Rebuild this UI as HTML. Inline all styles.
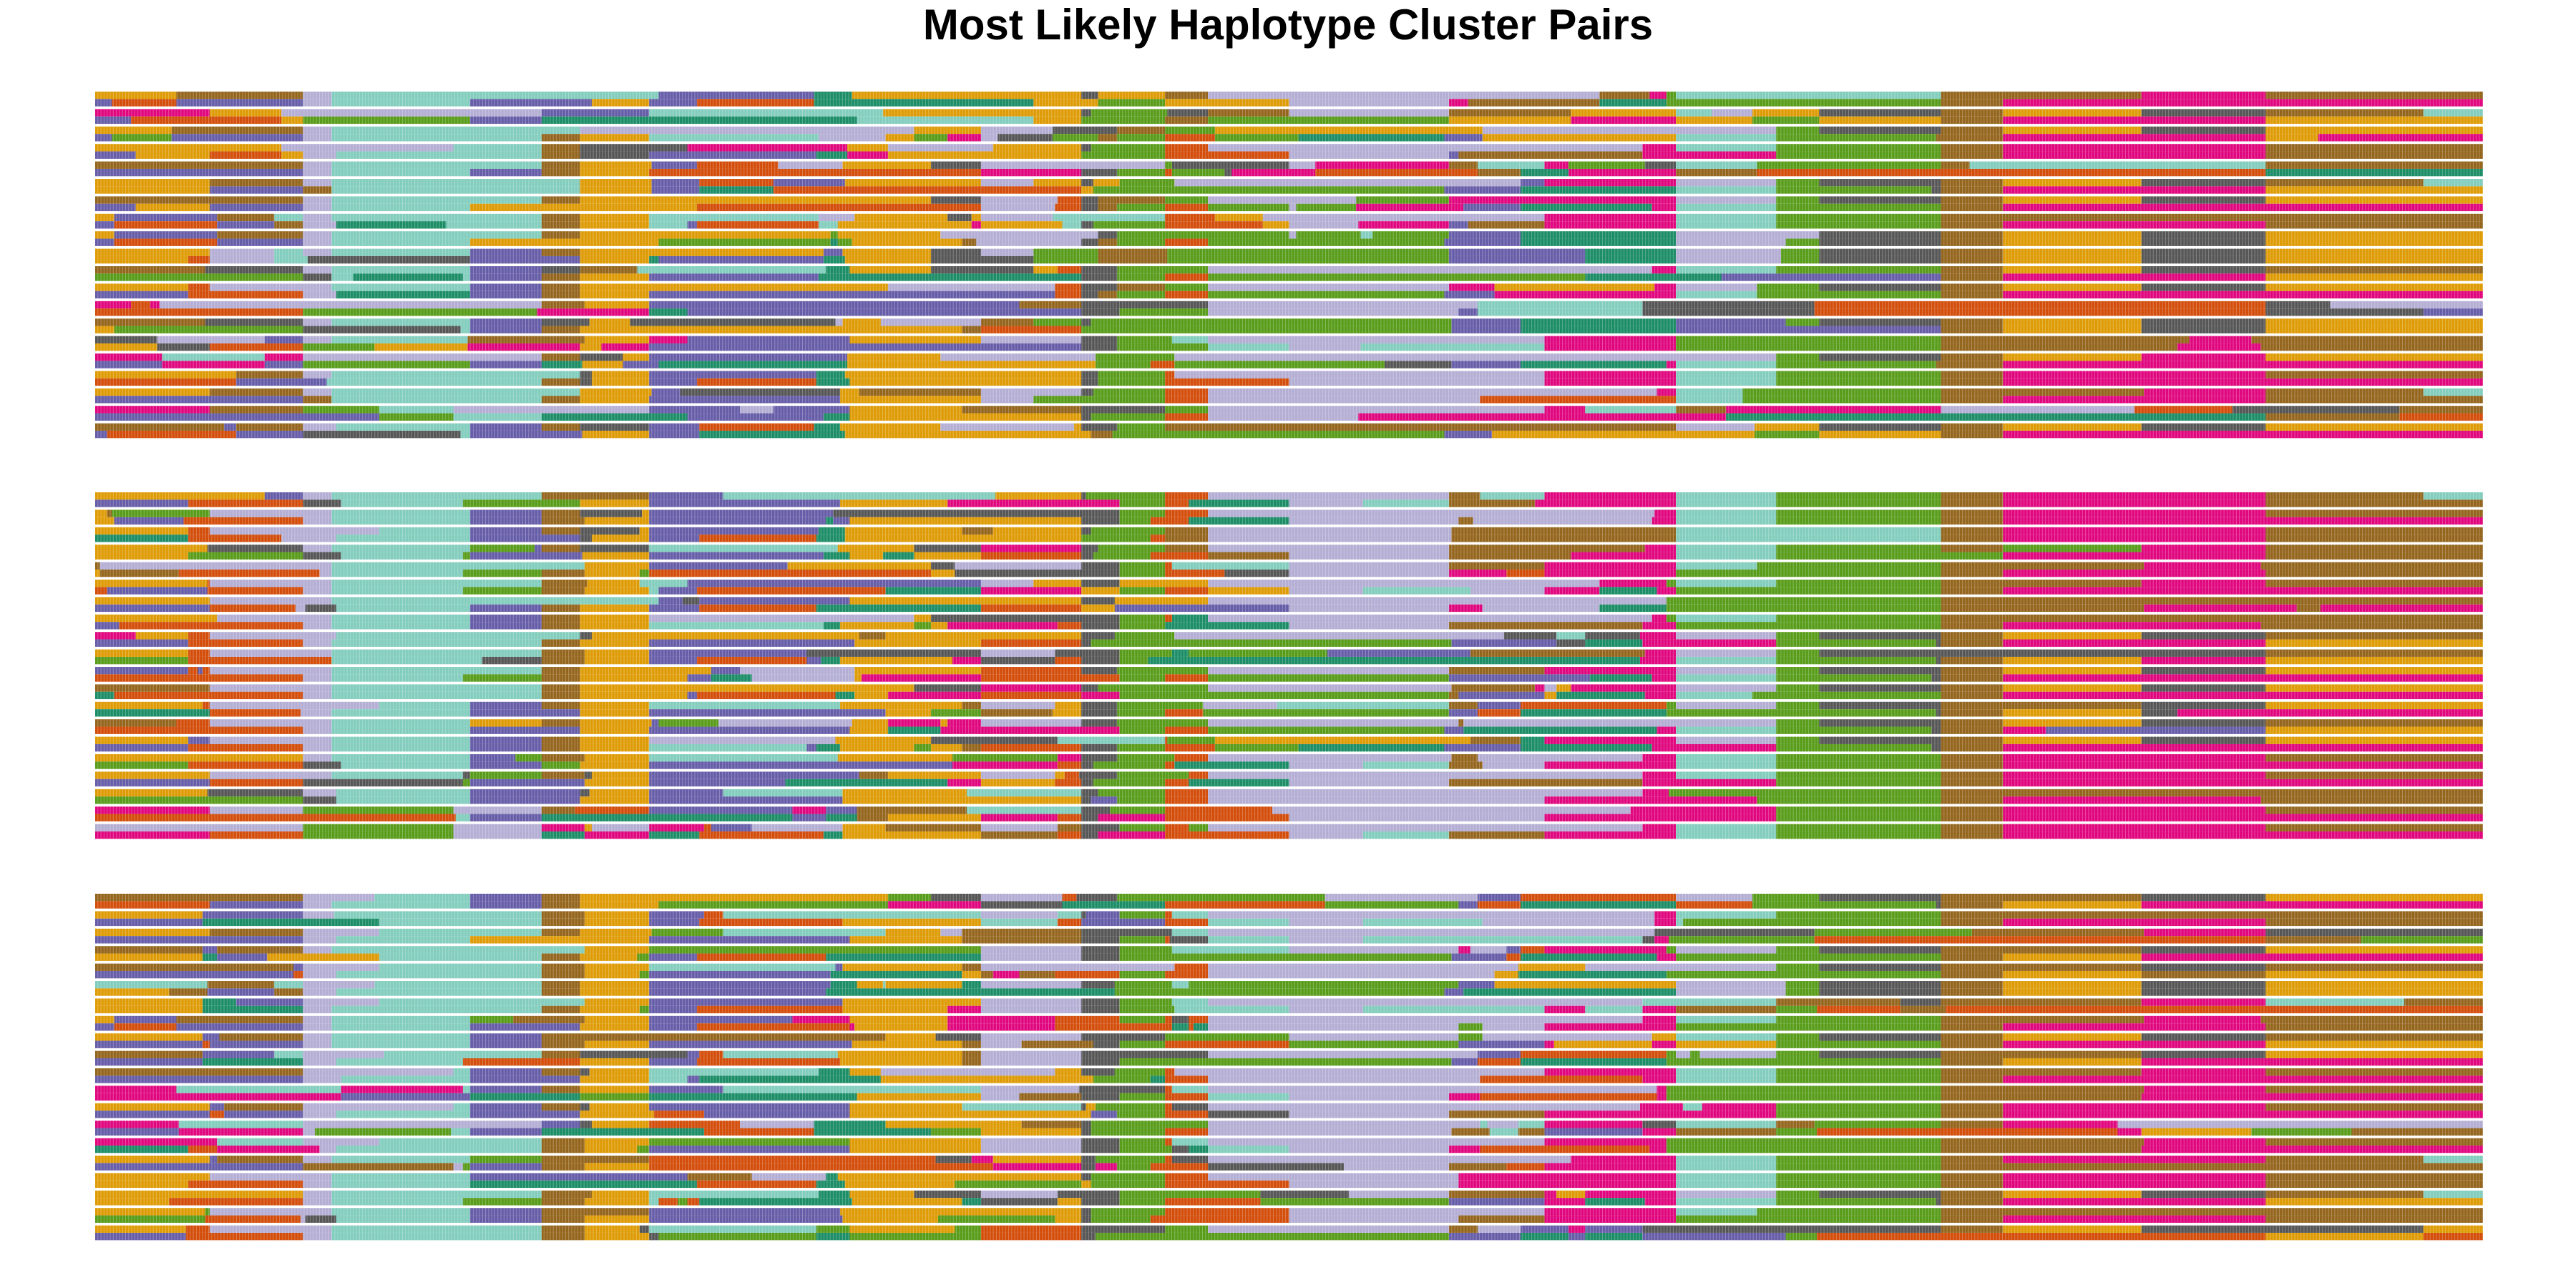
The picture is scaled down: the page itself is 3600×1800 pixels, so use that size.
<!DOCTYPE html>
<html><head><meta charset="utf-8"><title>Most Likely Haplotype Cluster Pairs</title>
<style>
html,body{margin:0;padding:0;background:#fff;}
body{width:3600px;height:1800px;overflow:hidden;}
#title{position:absolute;left:0;top:0px;width:3600px;text-align:center;font-family:"Liberation Sans",Arial,sans-serif;font-weight:bold;font-size:60px;color:#000;}
svg{position:absolute;left:0;top:0;}
</style></head>
<body>
<div id="title">Most Likely Haplotype Cluster Pairs</div>
<svg id="chart" width="3600" height="1800">
<defs>
<pattern id="vlines" patternUnits="userSpaceOnUse" width="4.3" height="10" x="133">
<rect x="3.3" y="0" width="1" height="10" fill="#ffffff" fill-opacity="0.28"/>
</pattern>
</defs>
</svg>
<script>
// cluster letter codes and colors
const clusterCodes = ['o','b','l','t','p','r','g','m','k','d'];
const clusterColors = ['#DE9B06','#94651D','#B4AED4','#82CDBD','#665DA8','#D34D0B','#589C1A','#E0067E','#565656','#1C8D66'];
// marker domain (positions along chromosome, 0..1000)
const markerDomain = [0, 1000];
// each string: haplotype segments, letter = cluster, number = end marker
const panel1 = [
"o34b87l99t236p301d317o413k420o448b466l630b651m658g662t773b857m909b1000",
"p7r34p87l99t157p208o232p252r301d393o420g448o500l567m575b630d658g773b799m1000",
"m48o78l187p232t330o413k417g449k466b500l567b618o662t677l694o722k773b799o857k909b975t1000",
"p15r78o87g157p187d319t393o413g448b466g567o618m662o694g722o773b799m909o1000",
"o32b87l99t203l343o371l401k428b448g469o581l704g722k773b799o857k909o1000",
"p7g32p87l99t187b203o232t303l331o343g357m371l378k401g420b428g448r469g504d565p581o662t704g771b799m909o931m1000",
"o78l150t187b203k248m315o332l376o413k417g448r466l648m662t704g773b799m909b1000",
"p17o48r78o87l101t187b203k232p302d315m332o413g448r500l567p571b648m704g773b799m909b1000",
"b87l99t187b203o233p252r286l313o350k371l448g451k500l511m567b579t607m617g649k662t696g773b785t909b1000",
"p87l99t157p187b203o232r371m413k428g448r451g473k476m511r579b597d617m662b696r909d1000",
"o48b87l99t203o233p253r284p314o371l393o413k418o429g452l597p607m662l704g722k773b799o857k909b975t1000",
"o48p87b99t203o233p253d284r413o418g565p597d662t704g769k773b799m909o1000",
"b87l99t187b203o350k371l403r413k420b448g466l528g567m662l704g722k773b799o857k909o1000",
"p17o48p87l99t157o252r371l402r413k420b428g448r466g500l503g528m573p597d652m662t704g773b799m1000",
"o8p51b75t87l99t187b203o232t303l318o357k367o371l401t448r469o489l607m662t704g773b1000",
"p8r51p75b87l101d147t187b203o232t248p252r303t311o367m371o405t413k418g448r489o500l529m567p575b607m662t704g773b799m909b1000",
"o8p51b87l99t187b203o308g311o354l420k428g500l503g530t535g567p597d662l722k773b799o857k909o1000",
"p8r51p87l99t157o236g308d311g317o363b369l413k420b428g448r466g565p597d662l708g722k773b799o857k909o1000",
"o48l75t87l99t157p187b203o305p313o350k371l393g420b449g567p624d662l706g722k773b799o857k909o1000",
"o39r48l75t89k157p203o232d236p305d314o350k393g420b449g567p624d662l706g722k773b799o857k909o1000",
"b46k87l99t157p187k203b227t306d316o350k393o403r413k428g466l652m662t704g773b799o857k909b1000",
"g87k99t108d154t157p187b203o232p303d413k428g448r466g624d681p773b799m909o1000",
"o39r48l99t157p187b203o332l402r413k428b448g466l567m586o653m662l696g722k773b799o857k909o1000",
"p39r87l101d157p187b203o232p402r413k420b428g448r466g565p586m662t696g773b799m1000",
"m15r23m27l187b205o232p387b413k466l579t648k720r909k936l1000",
"r87g185m232d248p413k429g466l571p579t648k720r909k975p1000",
"b46k87l99t157p187k207o224k310l313o329l371b393g413k417g568p597d662p708g722k773b799o857k909o1000",
"o8g87k153t157p187b203o363b371r413g568p597d662p773b799o857k909o1000",
"k26l71p87l99t156b205o232m248p316o371l413k428g451t466l607m662g773b877m903b1000",
"o26k48r87g117o156m203o212m232p413k428g466t500l530t607m662g773b872m907b1000",
"m28t71m87l187b203k221o232p315o354l419g452l704g722k773b799o857m909o1000",
"p28m71p87g157p187d204o221p236d315o419g442r452g540k568p597d658m662t704g771b799m1000",
"o59b87l99t203k208o232p302d314o413k420g448r452l607m662t704g773b799m909b1000",
"r59p97t187b203k208o232p252r302d316o413k420g448r500l607m662t704g773b799m1000",
"o48b87l99t203o233p245k312o320b371l413k418g448r466l654m662t690g773b858m909b975t1000",
"p87b99t187b203o232p312o371l393g448r466l580r662t690g773b799m909b1000",
"m48b87g119t150l232p270l284p316o363b413k448g466l607m624t662b683m773l854r895k965b1000",
"p119g150t187d248p305d316o413k417g448r466l529m683d909b965r1000",
"b54p59b87l101t157p187b203k232p253r301d312o354l410o413k428g448b662l695o722k773b799o857k909o1000",
"p5r59p87k153t157p204o232p253d314o417b426g565p585o695g722o773b799m1000"
];
const panel2 = [
"o71p87l99t187b232p263t377o413k415g448r466l567b580t607m662t704g773b799m909b975t1000",
"p39r87k103t154g203o232p312o357m429g448r458d500l531t567b603m662t704g773b799m909b1000",
"o5b7g48l99t157p187b203k229o232p309k429g448r466l653m662t704g773b799m909b1000",
"o8p37r87l99t157p187b205o232p306d309p316o413k429g442r458d500l571b577l652m662t704g773b799m1000",
"o39r48l119t157p187b203k228o232p303d314o363b376o413k417g448b466l568b662t773b799m909b1000",
"d39r78l101t157p203k208o232p253r302d314o413g442r448b466l568b662t773b799m909b1000",
"o47k87l99t157g184p187b203k232t311o343k371m413k420g448b466l567b649m662t704g773b799g857m909b1000",
"o39g87k103t154g157p204o232p305d316o330d343o371r413k418g442r466b500l567b618m662t704g799m909b1000",
"b2l99t205o232p290o350k360l413k429g448r451t500l567b607m662t696g773b858m907b1000",
"o2b35r94l99t154g187b205o228g232r350o360k429g448r473k500l567m591r607m662g773b799m909b1000",
"o47r48l99t187b206o228t248p371l393o413k429o466l630m658g662t704g773b857m909b1000",
"r5p47r87l99t154g187b205o232t236p252r331d371m413o429g448r466o500l531t576l607m630d654m662g773b799m1000",
"o48l99t236p246k253p316o413k427o466l658g773b1000",
"p48r84l88k101t157p187b203o232p253r302d371r413o427p500l567m581l630d658g773b858m922b932m1000",
"o51l99t157p187b203o232l343o350k429g448r451d466l652m658g662t704g773b1000",
"p10r87l99t157p187b203o232t305d312o343g350o357m403r413k429g448d500l567b648m662g773b799m907b1000",
"m17o39r48l101t203k208o320b331o413k427g452l590k612t624k647m662l704g722k773b799o857k909b1000",
"p39r87l99t187b203o232p318o371r413k417g568p612k624d648m704g771k773b799m909o1000",
"o39r48l99t187b205o232p298k371l402k429g451d458g516p576b649m662l704g722k909b1000",
"g39r99t162k187b205o232p252r298p304d312o359m371k402r413k429g441d647m662t704g771k773b799o857m909o1000",
"p39r43p45r48l99t187b203o258p270l318o371r413k428g466l567b607m662l704g722k773b799o857k909o1000",
"r87l99t154g187b203o248p258d275l318o321m371r429g448r466g567p626d652m662t704g769k773b799m1000",
"b48l99t187b203o343k371m413k420g466l568b603m607l612o618m662l704g722k773b799o857k909o1000",
"d8r87l99t187b203o248p252r310d318o332m371r413m429g567b571p607o612d649m662t694g773b799m1000",
"o45r48l119t157p187b203o232t312o363b371l402o413k428g464l495t567b579p597r658g662l704g722k773b857k909o1000",
"d48r86l99t157p203o232p331o350g371b401o413k428g448r464g567p579r597d658g771k773b799o857k872m1000",
"b34r48l99t157o187b203o233p236g261l317o332m354o357m371l413k428g466l571b573l704g722k773b799o857k909b1000",
"r87l99t157p203o232p316o332d354m429g448r466g565p573d654m662t704g769k773b799m817p909o1000",
"o39p48l99t157p187b203o232l310o350k403t448r449g469o576b597d607m662l704g722k773b799o857k909o1000",
"p39r87l99t157p187b203o232t298p302d312o343g350o363b371r413k428g448r469g504d565p597d652m704g769k773b799m1000",
"o87l99t157p176g187b205o232t311o359g403m413k428g452r466l568b579l648m662t704g773b799m909b1000",
"g39r87k103t157p187g203o232p359m403r413k418g448r452d500l531t567b581l607m662t704g773b799m1000",
"o48l99t154k157g187b205k208o232p320b332o371l402o406r412k428g458r466l648m662t704g773b799m909b1000",
"p48r87k154g157p205o232p289d357m371o402r413k418g448r458d500l567b648m704g773b799m1000",
"o47k87l101t157p203k207o232p263t313o365t413k420g448r466l648m659g773b1000",
"g87k101t157p203o232p313o413k417p428g448r466l607m696g773b799m907b1000",
"m48l87g150l187b201r232p292m306p319b365t413k425g448r493l643m704g773b799m909b1000",
"r151t157p187d292p306d319b332o371m403r413k420m448r500l607m704g773b799m1000",
"l87g150l187m205o208l232m255r258p275l313o331b371l403b413k429g448r458g466l648m662t704g773b799m909b1000",
"m48r87g150l187d205m232d253r305d313o371b403r413k420m448r500l531t567b607m662t704g773b799m1000"
];
const panel3 = [
"b87l117t157p187b203o332g350k371l405r411k428g515l579p597r662l694g722k773b857k909o1000",
"r48p87l99t157p187b203o236g332m371k405d448r515g571p579r597d662r694g771k773b799o857m1000",
"o45p87l100t187b205o232p255r263t371l403t413k415p429g448r451t466l653m662t704g773b1000",
"p45d119t187b205o232p253r313o371t403r413p448r466t500l531t581l653m662t665g773b799m909b1000",
"o48b87l119t187b203o233g263t331o354l363b413k451t466l653k720g786b858m909k1000",
"p87l101t157o232p316o363b413k429g448r450k466t500l531t648k653m659g720r909b949g1000",
"b45p51b87l99t205o232g371l413k429g451t500l571m576l591p597r607m658g662l704g722k773b857k909o1000",
"o45d51p72o119t187b203o227g232p252r306d371l413k429g568p591r597d654m662g773b799o857m1000",
"b83p87l119t187b205o232t310p313o363b371l452r466l596o624l704g722k773b857k909b1000",
"p83r87l101t187b205o228g232p308d363o371b376m387b402r429g448r466l586o596d658g773b799o857b909o1000",
"t47b75t87l117t187b203o232p308d319o330t331o363d371l413k427g451t458g571p586o662l708g722k773b799o857k909o1000",
"o31b47p75b87l101t187b203o232p306d427g565p573d662l708g722k773b799o857k909o1000",
"o45d59p87l119t205o232p313o371l413k429g451t466l648t704b756k773b857m909t967b1000",
"o45d87l99t187b203o228g232p252r313o357m371l413k429g452t500l531t607m624t648m662b704g721r756b775r1000",
"o8p34b87l99t157g175b205o232p292m316o357m402r429g448r451k458r466l648m662t704g773b858m907b1000",
"p8r34p87l99t157p203o232p252r316m318o357m402r451d458r460d466l571g581l607m662g773b799m909b1000",
"o45p52b87l99t157p187b331o352k371l413k448g500l571g581l652o662t704g722k773b799o857k909b1000",
"p45r48p87l99t157p187b205o232p317o363b371l388b418k429g448r500g571p607m611o652m662o704g773b799m909o1000",
"b45p75t87l121t187b203k248p253r263t311o363b371l413k466l579p597r658g662l668g672l704g722k773b857k909o1000",
"p45d87l101t154r203o232p252r312o363b371l413k429g568p579r597d658g773b799o857m1000",
"b87l150t157p187b203k207o232t303d316o329l402o413k427g448r452l607m662t704g773b857m909b1000",
"p87l103t157p203o232t248p253d329o418g442d448r466l580r648m662t704g773b799m1000",
"m34t103m154t157p187b203o232p263t371l412k448r451t466l654m658g773b858m909b1000",
"m103p157d203g232d319o371l387b413k429g448r466t500l567m580r654m658g773b857m1000",
"o48p54b87l150t157p187b203k207o232p316o363t413k415o419g448r451k466l647m665t673m704g773b799m909b1000",
"p48r54p87l101t157p203o234r255p316o417p428g448r466k500l567b607m704g773b799m1000",
"m35t87l187p203k208o232r270l301d331o388b413k417g466l580t583l596t607m648k662t704b720g773b799m847l1000",
"p35m87l92g149t157p187d255r301d350g371o413k417g448r466l568b584t596b607p648m662b704g721r847m857o903g945b1000",
"m51t87l119t187b205o232g316o371l413k429g448r451t466l607m658g773b858m909b1000",
"d39r51m94l101t187b205o227g232p316o371l413k429g451k458d466t500l567m580r651m658g773b857m1000",
"o48p51b87l99t157g187b232r352k367m376o413k419g448r451k466l618m662t704g773b799m909b975t1000",
"p87b150l154g157p187b205o232r376m413k419m428g442r466k523l567b591r607m662t704g773b1000",
"o48l99t157p248b275l306d311o413k417g448r466l571m662t704g773b799m909b1000",
"o39r87l99t157d252r302d314o360g413o417g448r500l571m662t704g773b799m909b1000",
"o87l99t187b208o232t303d316o343k371l403k429g488k525l567b607m612o624m662l704g722k773b799o857k909b975t1000",
"o31r87l99t154g187b205o232t236r244g248r253d317o363d371k403o413k429g448r488g567p607m624d649m662t704g771k773b799m909o1000",
"o46g48l99t157p187b232p312o413k417g448r500l607m662t696g773b1000",
"g46r86l88k101t157p187b205o232p313o353g402o413k417g442r500l571b607m662g773b799m909b1000",
"o38r48l99t187b205o228k232t302g316o360g371r413k448g466l567b579l597p617m624p648k773b799o857k975o1000",
"p38r87l99t187b205o232k236g302d316g371r413k419g567p597d617p624d648p708g721r909o975r1000"
];
const panelData = [panel1, panel2, panel3];

(function(){
  const svg = document.getElementById('chart');
  const NS = 'http://www.w3.org/2000/svg';
  const plotLeft = 133, plotRight = 3470;
  const panelTops = [128, 688, 1249];
  const pitch = 24.4, stripeH = 10.35;
  const x = v => plotLeft + (v - markerDomain[0]) / (markerDomain[1] - markerDomain[0]) * (plotRight - plotLeft);
  const colorOf = c => clusterColors[clusterCodes.indexOf(c)];
  panelData.forEach((rows, pi) => {
    const g = document.createElementNS(NS, 'g');
    
    
    svg.appendChild(g);
    rows.forEach((str, ri) => {
      const ind = Math.floor(ri / 2), hap = ri % 2;
      const y0 = panelTops[pi] + ind * pitch + hap * stripeH;
      const re = /([a-z])(\d+)/g;
      let m, start = markerDomain[0];
      while ((m = re.exec(str)) !== null) {
        const end = +m[2];
        const r = document.createElementNS(NS, 'rect');
        r.setAttribute('x', x(start));
        r.setAttribute('y', y0);
        r.setAttribute('width', Math.max(0, x(end) - x(start)));
        r.setAttribute('height', stripeH);
        r.setAttribute('fill', colorOf(m[1]));
        
        
        g.appendChild(r);
        start = end;
      }
    });
    const ov = document.createElementNS(NS, 'rect');
    ov.setAttribute('x', plotLeft);
    ov.setAttribute('y', panelTops[pi]);
    ov.setAttribute('width', plotRight - plotLeft);
    ov.setAttribute('height', 20 * pitch - 3.7);
    ov.setAttribute('fill', 'url(#vlines)');
    
    
    g.appendChild(ov);
  });
})();
</script>
</body></html>
